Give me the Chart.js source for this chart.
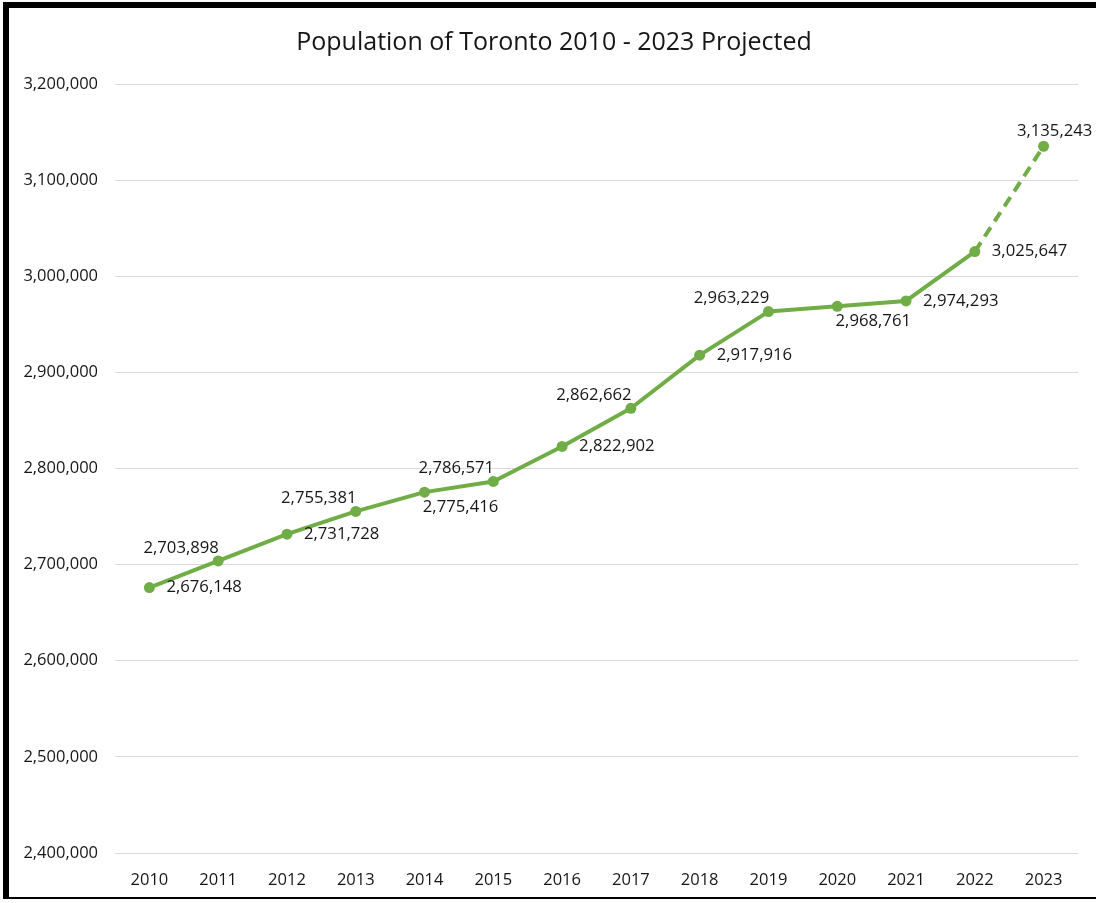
<!DOCTYPE html>
<html>
<head>
<meta charset="utf-8">
<script src="https://cdn.jsdelivr.net/npm/chart.js@4/dist/chart.umd.min.js"></script>
<style>
  html, body { margin: 0; padding: 0; background: #fff; }
  #wrap { position: relative; width: 1096px; height: 903px; overflow: hidden; }
  #chart { position: absolute; left: 0; top: 0; }
  #frame {
    position: absolute; left: 3px; top: 2px; width: 1200px; height: 897px;
    border-left: 6px solid #000; border-top: 6px solid #000; border-bottom: 2px solid #000;
    box-sizing: border-box; pointer-events: none;
  }
</style>
</head>
<body>
<div id="wrap">
  <canvas id="chart" width="1096" height="903"></canvas>
  <div id="frame"></div>
</div>
<script>
const years = ['2010', '2011', '2012', '2013', '2014', '2015', '2016',
               '2017', '2018', '2019', '2020', '2021', '2022', '2023'];
const population = [2676148, 2703898, 2731728, 2755381, 2775416, 2786571, 2822902,
                    2862662, 2917916, 2963229, 2968761, 2974293, 3025647, 3135243];
const yTicks = [2400000, 2500000, 2600000, 2700000, 2800000, 2900000, 3000000, 3100000, 3200000];
const chartTitle = 'Population of Toronto 2010 - 2023 Projected';

const green = '#70AD47';
const textColor = '#161616';
const fontFamily = '"Open Sans", "Noto Sans", sans-serif';

// where each value label sits relative to its point
const labelPlace = ['right', 'aboveLeft', 'right', 'aboveLeft', 'rightBelow', 'aboveLeft', 'right',
                    'aboveLeft', 'right', 'aboveLeft', 'rightBelow', 'right', 'right', 'above'];

const valueLabels = {
    id: 'valueLabels',
    afterDatasetsDraw(chart) {
        const ctx = chart.ctx;
        const meta = chart.getDatasetMeta(0);
        ctx.save();
        ctx.font = '16.7px ' + fontFamily;
        ctx.fillStyle = textColor;
        ctx.textBaseline = 'middle';
        meta.data.forEach((pt, i) => {
            const txt = population[i].toLocaleString('en-US');
            let x = pt.x, y = pt.y;
            switch (labelPlace[i]) {
                case 'right': ctx.textAlign = 'left'; x += 17; break;
                case 'aboveLeft': ctx.textAlign = 'center'; x -= 37; y -= 13; break;
                case 'rightBelow': ctx.textAlign = 'center'; x += 36; y += 15; break;
                case 'above': ctx.textAlign = 'center'; x += 11; y -= 15; break;
            }
            ctx.fillText(txt, x, y);
        });
        ctx.restore();
    }
};

const titleText = {
    id: 'titleText',
    afterDraw(chart) {
        const ctx = chart.ctx;
        ctx.save();
        ctx.font = '25px ' + fontFamily;
        ctx.fillStyle = textColor;
        ctx.textAlign = 'center';
        ctx.textBaseline = 'middle';
        ctx.fillText(chartTitle, 554, 43);
        ctx.restore();
    }
};

const last = population.length - 1;

new Chart(document.getElementById('chart'), {
    type: 'line',
    data: {
        labels: years,
        datasets: [{
            data: population,
            borderColor: green,
            backgroundColor: green,
            borderWidth: 4,
            borderJoinStyle: 'round',
            pointRadius: 5.5,
            pointBackgroundColor: green,
            pointBorderWidth: 0,
            tension: 0,
            segment: {
                borderDash: c => c.p1DataIndex === last ? [11, 7] : undefined
            }
        }]
    },
    options: {
        responsive: false,
        animation: false,
        layout: { padding: { left: 0, top: 84, right: 18, bottom: 10 } },
        plugins: {
            legend: { display: false },
            tooltip: { enabled: false },
            title: { display: false }
        },
        scales: {
            x: {
                offset: true,
                grid: { display: false },
                border: { display: false },
                ticks: { color: textColor, font: { family: fontFamily, size: 16.5 }, padding: 9, maxRotation: 0 },
                afterFit: s => { s.height = 40; }
            },
            y: {
                min: 2400000,
                max: 3200000,
                afterBuildTicks: s => { s.ticks = yTicks.map(v => ({ value: v })); },
                grid: { color: '#D9D9D9', lineWidth: 1, drawTicks: false },
                border: { display: false },
                ticks: {
                    color: textColor,
                    font: { family: fontFamily, size: 16.5 },
                    padding: 17,
                    callback: v => Number(v).toLocaleString('en-US')
                },
                afterFit: s => { s.width = 115; }
            }
        }
    },
    plugins: [valueLabels, titleText]
});
</script>
</body>
</html>
